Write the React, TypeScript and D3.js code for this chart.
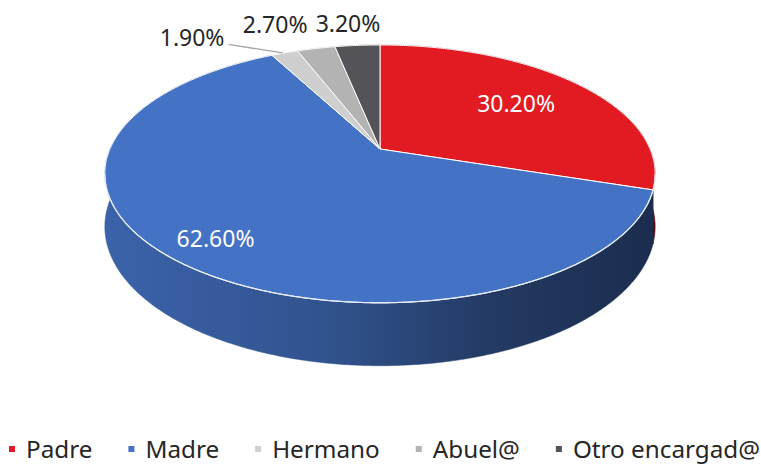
import React, { useEffect, useRef } from "react";
import * as d3 from "d3";

const categories = ["Padre", "Madre", "Hermano", "Abuel@", "Otro encargad@"];
const values = [30.2, 62.6, 1.9, 2.7, 3.2];
const colors = ["#e21b23", "#4472c4", "#cfcfcf", "#b3b3b3", "#545358"];

// label layout: inside labels use a radius fraction; outside labels use a nudge from rim point
const labelLayout = [
  { inside: true, r: 0.67, dx: 0, dy: 0, leader: false },
  { inside: true, r: 0.83, dx: 0, dy: 0, leader: false },
  { inside: false, r: 1, dx: -92.6, dy: -15, leader: true },
  { inside: false, r: 1, dx: -41, dy: -24, leader: false },
  { inside: false, r: 1, dx: -9.4, dy: -21, leader: false },
];

const W = 761;
const H = 464;
const CX = 380;
const CY = 149;
const RA = 270;
const RB = 124.1;
const K = 0.193;
const DEPTH = 50.8;
const FONT = "'Noto Sans', sans-serif";

function proj(a: number, r: number): [number, number] {
  const u = r * Math.sin(a);
  const v = -r * Math.cos(a);
  const w = 1 - K * v;
  return [CX + (RA * u) / w, CY + (RB * v) / w];
}
function depthAt(a: number): number {
  const v = -Math.cos(a);
  return DEPTH / (1 - K * v);
}
function rimPoints(a0: number, a1: number): [number, number][] {
  const n = Math.max(2, Math.ceil(((a1 - a0) * 180) / Math.PI / 0.5));
  const pts: [number, number][] = [];
  for (let i = 0; i <= n; i++) pts.push(proj(a0 + ((a1 - a0) * i) / n, 1));
  return pts;
}

export default function App() {
  const ref = useRef<SVGSVGElement>(null);
  useEffect(() => {
    const svg = d3.select(ref.current);
    svg.selectAll("*").remove();
    const pie = d3.pie<number>().sort(null).startAngle(0).endAngle(2 * Math.PI);
    const arcs = pie(values);
    const line = d3.line();

    const all = rimPoints(0, 2 * Math.PI);
    const minX = d3.min(all, (p) => p[0])!;
    const maxX = d3.max(all, (p) => p[0])!;

    const defs = svg.append("defs");
    colors.forEach((c, i) => {
      const g = defs
        .append("linearGradient")
        .attr("id", `side${i}`)
        .attr("gradientUnits", "userSpaceOnUse")
        .attr("x1", minX)
        .attr("x2", maxX)
        .attr("y1", 0)
        .attr("y2", 0);
      const base = d3.color(c)!;
      [
        [0, 0.4],
        [0.4, 0.9],
        [0.7, 1.9],
        [1, 2.6],
      ].forEach(([o, d]) => {
        g.append("stop").attr("offset", o).attr("stop-color", base.darker(d).formatHex());
      });
    });

    // sides, back to front
    const order = arcs
      .map((a, i) => ({ a, i }))
      .sort((p, q) => -Math.cos((p.a.startAngle + p.a.endAngle) / 2) - -Math.cos((q.a.startAngle + q.a.endAngle) / 2));
    const gSide = svg.append("g");
    order.forEach(({ a, i }) => {
      const a0 = a.startAngle;
      const a1 = a.endAngle;
      const n = Math.max(2, Math.ceil(((a1 - a0) * 180) / Math.PI / 0.5));
      const top: [number, number][] = [];
      const bot: [number, number][] = [];
      for (let k = 0; k <= n; k++) {
        const ang = a0 + ((a1 - a0) * k) / n;
        const p = proj(ang, 1);
        top.push(p);
        bot.push([p[0], p[1] + depthAt(ang)]);
      }
      const pts = top.concat(bot.reverse());
      gSide
        .append("path")
        .attr("d", line(pts) + "Z")
        .attr("fill", `url(#side${i})`)
        .attr("stroke", `url(#side${i})`)
        .attr("stroke-width", 0.5);
    });

    // tops
    const gTop = svg.append("g");
    arcs.forEach((a, i) => {
      const pts: [number, number][] = [[CX, CY], ...rimPoints(a.startAngle, a.endAngle)];
      gTop
        .append("path")
        .attr("d", line(pts) + "Z")
        .attr("fill", colors[i])
        .attr("stroke", "#ffffff")
        .attr("stroke-width", 1)
        .attr("stroke-linejoin", "round");
    });

    // front rim highlight between silhouette points
    let leftA = 0;
    let rightA = 0;
    let lx = Infinity;
    let rx = -Infinity;
    for (let d = 0; d < 360; d += 0.25) {
      const ang = (d * Math.PI) / 180;
      const p = proj(ang, 1);
      if (p[0] < lx) {
        lx = p[0];
        leftA = ang;
      }
      if (p[0] > rx) {
        rx = p[0];
        rightA = ang;
      }
    }
    svg
      .append("path")
      .attr("d", line(rimPoints(rightA, leftA)))
      .attr("fill", "none")
      .attr("stroke", "#e6ebf3")
      .attr("stroke-width", 1.3);

    // data labels
    const gLab = svg.append("g").attr("font-family", FONT).attr("font-size", 23);
    arcs.forEach((a, i) => {
      const L = labelLayout[i];
      const mid = (a.startAngle + a.endAngle) / 2;
      const p = proj(mid, L.r);
      const x = p[0] + L.dx;
      const y = p[1] + L.dy;
      const txt = gLab
        .append("text")
        .attr("x", x)
        .attr("y", y)
        .attr("dy", "0.35em")
        .attr("text-anchor", "middle")
        .attr("fill", L.inside ? "#ffffff" : "#262626")
        .text(values[i].toFixed(2) + "%");
      if (L.leader) {
        const tw = (txt.node() as SVGTextElement).getComputedTextLength();
        svg
          .append("path")
          .attr("d", line([
            [x + tw / 2 + 4, y + 6.5],
            [p[0] - 2, p[1]],
          ]))
          .attr("fill", "none")
          .attr("stroke", "#a6a6a6")
          .attr("stroke-width", 1.3);
      }
    });

    // legend
    const gap = 36;
    const markerToText = 17;
    const legendLeft = 9;
    const legendRight = 760;
    const gLeg = svg.append("g").attr("font-family", FONT).attr("fill", "#262626");
    const items = categories.map((c, i) => {
      const g = gLeg.append("g");
      g.append("rect").attr("x", 0).attr("y", -12).attr("width", 6).attr("height", 6).attr("fill", colors[i]);
      const t = g.append("text").attr("x", markerToText).attr("y", 0).attr("font-size", 25).text(c);
      return { g, t };
    });
    const sum25 = d3.sum(items, (d) => (d.t.node() as SVGTextElement).getComputedTextLength());
    const avail = legendRight - legendLeft - gap * (items.length - 1) - markerToText * items.length;
    const fs = Math.min(25, (25 * avail) / sum25);
    items.forEach((it) => it.t.attr("font-size", fs));
    let x0 = legendLeft;
    items.forEach((it) => {
      const tw = (it.t.node() as SVGTextElement).getComputedTextLength();
      it.g.attr("transform", `translate(${x0},458)`);
      x0 += markerToText + tw + gap;
    });
  }, []);
  return (
    <svg
      ref={ref}
      width={W}
      height={H}
      style={{ position: "absolute", left: 0, top: 0, background: "#ffffff" }}
    />
  );
}
